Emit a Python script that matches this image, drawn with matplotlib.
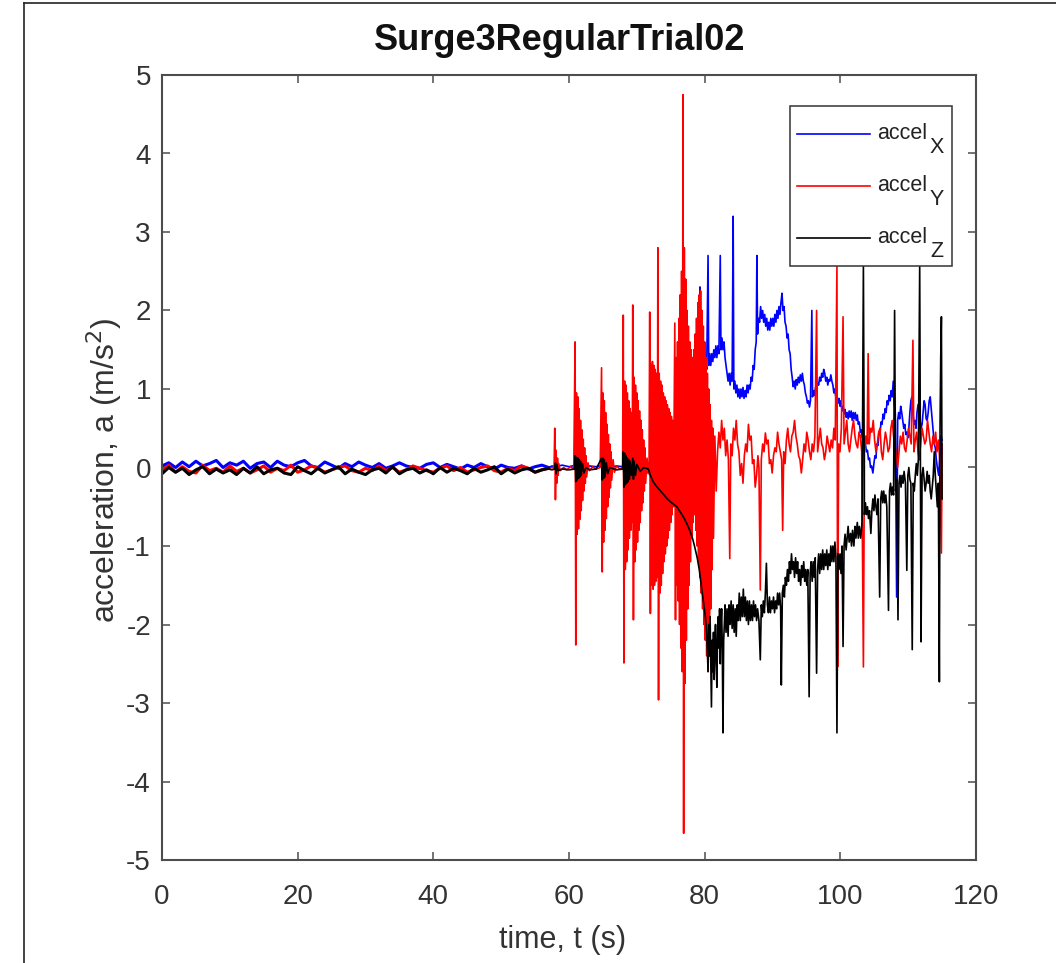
import matplotlib
import numpy as np

matplotlib.use("Agg")
import matplotlib.pyplot as plt
from matplotlib.lines import Line2D
from matplotlib.patches import Rectangle

W, H = 1056, 963
FONT = ["Liberation Sans Narrow", "Liberation Sans", "DejaVu Sans"]
plt.rcParams["font.family"] = FONT
plt.rcParams["axes.unicode_minus"] = False

title = "Surge3RegularTrial02"
x_label = "time, t (s)"
y_label = "acceleration, a (m/s$^2$)"
x_ticks = [0, 20, 40, 60, 80, 100, 120]
y_ticks = [-5, -4, -3, -2, -1, 0, 1, 2, 3, 4, 5]
legend_names = ["X", "Y", "Z"]

# quiet part, one sample per second from t = 0 to 57
blue_quiet = [0.02, 0.06, 0.0, 0.07, 0.01, 0.08, 0.02, 0.05, 0.09, 0.0, 0.06, 0.03,
              0.08, -0.01, 0.05, 0.07, 0.0, 0.08, 0.03, 0.01, 0.06, 0.09, 0.02, 0.0,
              0.07, 0.03, -0.01, 0.05, 0.01, 0.07, 0.03, 0.0, 0.05, -0.01, 0.02, 0.06,
              0.02, 0.0, -0.01, 0.04, 0.06, 0.0, 0.04, 0.01, -0.02, 0.03, 0.0, 0.05,
              0.01, -0.02, 0.03, 0.0, -0.01, 0.02, -0.02, 0.01, 0.03, 0.0]
red_quiet = [-0.04, 0.03, -0.06, 0.01, -0.05, -0.07, 0.03, -0.04, -0.01, -0.06, 0.02, -0.05,
             -0.01, -0.07, -0.03, 0.02, -0.06, -0.01, -0.04, 0.03, -0.06, -0.03, 0.02, -0.01,
             -0.06, -0.03, 0.0, 0.02, -0.04, -0.06, -0.01, -0.04, 0.02, -0.04, 0.0, -0.06,
             -0.03, 0.02, -0.01, -0.04, -0.06, -0.01, 0.02, -0.04, 0.0, -0.06, -0.03, 0.0,
             0.02, -0.04, -0.06, -0.01, -0.04, 0.02, -0.01, -0.06, -0.03, -0.01]
black_quiet = [-0.08, 0.0, -0.06, -0.01, -0.09, -0.03, 0.01, -0.08, -0.02, -0.07, -0.03,
               -0.09, -0.01, -0.07, 0.01, -0.08, -0.03, -0.01, -0.07, -0.09, 0.01, -0.04,
               -0.08, -0.01, -0.07, -0.03, 0.01, -0.08, -0.02, -0.06, -0.09, -0.03, -0.01,
               -0.07, 0.01, -0.08, -0.03, -0.01, -0.07, -0.03, -0.08, 0.0, -0.06, -0.01,
               -0.04, -0.08, -0.01, -0.06, -0.03, 0.01, -0.08, -0.02, -0.07, -0.03, -0.01,
               -0.06, -0.03, -0.01]

# active part, (t, a) pairs
blue_active = [
    (57.0, 0.0), (57.5, 0.02), (58, 0.01), (59, 0.03), (60, 0.01), (61, 0.03), (62, 0.0), (63, 0.02),
    (64, 0.01), (65, 0.03), (66, 0.0), (67, 0.02), (68, 0.01), (69, 0.03), (70, 0.02),
    (71, 0.03), (71.4, 0.0), (72.0, 0.08), (72.5, 0.15), (73.0, 0.22), (73.5, 0.28),
    (74.0, 0.33), (74.6, 0.39), (75.0, 0.45), (75.5, 0.55), (76.0, 0.62), (76.5, 0.72),
    (77.0, 0.78), (77.5, 0.85), (78.0, 0.9), (78.3, 0.95), (78.7, 1.05),
    (79.0, 1.1), (79.15, 1.2), (79.3, 2.3), (79.4, 1.15), (79.55, 1.3), (79.7, 1.15),
    (79.85, 1.3), (80.0, 1.2), (80.15, 1.35), (80.3, 1.25), (80.5, 2.7), (80.6, 1.3),
    (80.75, 1.45), (80.9, 1.3), (81.05, 1.45), (81.2, 1.35), (81.35, 1.5), (81.5, 1.4),
    (81.65, 1.55), (81.8, 1.4), (81.95, 1.55), (82.1, 1.45), (82.3, 2.7), (82.4, 1.5),
    (82.55, 1.65), (82.7, 1.5), (82.85, 1.6), (83.0, 1.4), (83.15, 1.3), (83.3, 1.2),
    (83.45, 1.1), (83.6, 1.2), (83.75, 1.05), (83.9, 1.2), (84.05, 1.1), (84.2, 3.2),
    (84.3, 1.0), (84.45, 1.1), (84.6, 0.95), (84.75, 1.05), (84.9, 0.9), (85.05, 1.0),
    (85.2, 0.88), (85.35, 1.0), (85.5, 0.9), (85.65, 1.02), (85.8, 0.88), (85.95, 0.98),
    (86.1, 0.9), (86.25, 1.05), (86.4, 0.95), (86.55, 1.05), (86.7, 1.0), (86.85, 1.15),
    (87.0, 1.1), (87.15, 1.3), (87.3, 1.25), (87.45, 1.5), (87.6, 1.6), (87.7, 2.7),
    (87.8, 1.7), (87.95, 1.9), (88.1, 1.85), (88.25, 2.05), (88.4, 1.9), (88.55, 2.0),
    (88.7, 1.85), (88.85, 1.95), (89.0, 1.8), (89.15, 1.9), (89.3, 1.75), (89.45, 1.85),
    (89.6, 1.75), (89.75, 1.9), (89.9, 1.8), (90.05, 1.9), (90.2, 1.8), (90.35, 1.95),
    (90.5, 1.85), (90.65, 2.0), (90.8, 1.9), (90.95, 2.05), (91.1, 1.95), (91.25, 2.1),
    (91.4, 2.22), (91.55, 2.0), (91.7, 2.05), (91.85, 1.85), (92.0, 1.8), (92.15, 1.65),
    (92.3, 1.7), (92.45, 1.5), (92.6, 1.45), (92.75, 1.25), (92.9, 1.15), (93.05, 1.03),
    (93.2, 1.1), (93.35, 1.0), (93.5, 1.12), (93.65, 1.05), (93.8, 1.15), (93.95, 1.08),
    (94.1, 1.18), (94.25, 1.1), (94.4, 1.2), (94.55, 1.1), (94.7, 1.05), (94.85, 0.95),
    (95.0, 0.9), (95.15, 0.82), (95.3, 0.85), (95.45, 0.77), (95.6, 0.85), (95.8, 2.0),
    (95.9, 0.9), (96.05, 0.98), (96.2, 0.92), (96.35, 1.02), (96.5, 0.98), (96.65, 1.08),
    (96.8, 1.05), (96.95, 1.15), (97.1, 1.1), (97.25, 1.2), (97.4, 1.15), (97.55, 1.25),
    (97.7, 1.2), (97.85, 1.1), (98.0, 1.15), (98.15, 1.05), (98.3, 1.12), (98.45, 1.1),
    (98.6, 1.18), (98.75, 1.1), (98.9, 1.05), (99.05, 0.95), (99.2, 1.0), (99.35, 0.88),
    (99.5, 0.92), (99.65, 0.82), (99.8, 0.88), (99.95, 0.78), (100.1, 0.85), (100.25, 0.72),
    (100.4, 0.78), (100.55, 0.68), (100.7, 0.74), (100.85, 0.64), (101.0, 0.7), (101.15, 0.62),
    (101.3, 0.72), (101.45, 0.64), (101.6, 0.72), (101.75, 0.6), (101.9, 0.7), (102.05, 0.62),
    (102.2, 0.7), (102.35, 0.6), (102.5, 0.67), (102.65, 0.55), (102.8, 0.58), (102.95, 0.45),
    (103.1, 0.48), (103.25, 0.38), (103.4, 0.4), (103.55, 0.3), (103.7, 0.3), (103.85, 0.2),
    (104.0, 0.22), (104.15, 0.1), (104.3, 0.12), (104.45, 0.0), (104.6, 0.02), (104.8, -0.07),
    (104.95, 0.05), (105.1, 0.15), (105.25, 0.12), (105.4, 0.3), (105.55, 0.28), (105.7, 0.45),
    (105.85, 0.42), (106.0, 0.58), (106.15, 0.55), (106.3, 0.68), (106.45, 0.62), (106.6, 0.75),
    (106.75, 0.7), (106.9, 0.85), (107.05, 0.8), (107.2, 0.92), (107.35, 0.85), (107.5, 0.98),
    (107.65, 0.9), (107.8, 1.1), (107.95, 0.8), (108.1, 0.7), (108.3, -1.65), (108.45, 0.6),
    (108.6, 0.7), (108.75, 0.62), (108.9, 0.78), (109.05, 0.7), (109.2, 0.6), (109.35, 0.5),
    (109.5, 0.55), (109.65, 0.42), (109.8, 0.45), (109.95, 0.38), (110.1, 0.5), (110.25, 0.7),
    (110.4, 0.85), (110.55, 0.9), (110.7, 0.7), (110.85, 0.55), (111.0, 0.6), (111.15, 0.5),
    (111.3, 0.7), (111.45, 0.8), (111.6, 0.72), (111.75, 0.6), (111.9, 0.5), (112.05, 0.55),
    (112.2, 0.7), (112.35, 0.85), (112.5, 0.8), (112.65, 0.62), (112.8, 0.6), (112.95, 0.7),
    (113.1, 0.85), (113.25, 0.9), (113.4, 0.75), (113.55, 0.6), (113.7, 0.45), (113.85, 0.3),
    (114.0, 0.25), (114.15, 0.1), (114.3, 0.0), (114.5, -0.1), (114.7, 0.2), (114.85, 0.4),
    (115.0, 0.35),
]
red_active = [
    (57.0, -0.01), (57.5, 0.0), (57.8, -0.01), (57.9, 0.50), (58.0, -0.41), (58.1, 0.22), (58.2, -0.2),
    (58.3, 0.12), (58.4, -0.1), (58.5, 0.05), (58.7, -0.04), (59.2, 0.0), (59.7, -0.03),
    (60.2, 0.01), (60.7, -0.02),
    (60.9, 1.60), (61.0, -2.26), (61.1, 0.95), (61.2, -0.85), (61.3, 0.90), (61.4, -0.78),
    (61.5, 0.75), (61.6, -0.66), (61.7, 0.6), (61.8, -0.55), (61.9, 0.48), (62.0, -0.42),
    (62.1, 0.36), (62.2, -0.3), (62.3, 0.25), (62.4, -0.2), (62.5, 0.15), (62.6, -0.12),
    (62.8, 0.06), (63.0, -0.04), (63.5, 0.01), (64.0, -0.02), (64.6, 0.0),
    (64.8, 1.27), (64.9, -1.33), (65.0, 0.95), (65.1, -0.95), (65.2, 0.85), (65.3, -0.8),
    (65.4, 0.7), (65.5, -0.65), (65.6, 0.55), (65.7, -0.5), (65.8, 0.42), (65.9, -0.38),
    (66.0, 0.3), (66.1, -0.26), (66.2, 0.2), (66.3, -0.16), (66.5, 0.1), (66.7, -0.06),
    (67.0, 0.02), (67.5, -0.02), (67.9, 0.0),
    (68.0, 1.94), (68.1, -2.49), (68.2, 1.1), (68.3, -1.3), (68.4, 1.05), (68.5, -1.2),
    (68.6, 0.95), (68.7, -1.05), (68.8, 0.85), (68.9, -0.9), (69.0, 0.75), (69.1, -0.8),
    (69.2, 0.7), (69.3, -0.7), (69.4, 2.07), (69.5, -1.94), (69.6, 1.15), (69.7, -1.2),
    (69.8, 1.05), (69.9, -1.05), (70.0, 0.95), (70.1, -0.95), (70.2, 0.85), (70.3, -0.8),
    (70.4, 0.72), (70.5, -0.7), (70.6, 0.6), (70.7, -0.55), (70.8, 0.48), (70.9, -0.45),
    (71.0, 0.35), (71.1, -0.3), (71.2, 0.25), (71.3, -0.2), (71.5, 0.12), (71.7, -0.08),
    (71.8, 0.0),
    (71.9, 1.98), (72.0, -1.86), (72.1, 1.3), (72.2, -1.5), (72.3, 1.35), (72.4, -1.55),
    (72.5, 1.3), (72.6, -1.5), (72.7, 1.25), (72.8, -1.45), (72.9, 1.2), (73.0, -1.4),
    (73.1, 2.8), (73.2, -2.96), (73.3, 1.2), (73.4, -1.6), (73.5, 1.1), (73.6, -1.5),
    (73.7, 1.05), (73.8, -1.35), (73.9, 0.95), (74.0, -1.2), (74.1, 0.9), (74.2, -1.1),
    (74.3, 0.85), (74.4, -1.0), (74.5, 0.8), (74.6, -0.9), (74.7, 0.75), (74.8, -0.8),
    (74.9, 0.7), (75.0, -0.7), (75.1, 0.65), (75.2, -0.6), (75.3, 0.6), (75.4, -0.5),
    (75.6, 1.84), (75.7, -1.94), (75.8, 1.4), (75.9, -1.5), (76.0, 1.6), (76.1, -1.7),
    (76.2, 1.9), (76.3, -2.0), (76.4, 2.2), (76.5, -2.3), (76.6, 2.5), (76.7, -2.6),
    (76.8, 4.75), (76.9, -4.66), (77.0, 2.8), (77.1, -2.75), (77.2, 2.4), (77.3, -2.2),
    (77.4, 2.0), (77.5, -1.8), (77.6, 1.8), (77.7, -1.5), (77.8, 1.6), (77.9, -1.2),
    (78.0, 1.5), (78.1, -0.9), (78.2, 1.4), (78.3, -0.7), (78.4, 1.5), (78.5, -0.6),
    (78.6, 1.7), (78.7, -0.8), (78.8, 1.9), (78.9, -1.0), (79.0, 2.1), (79.1, -1.2),
    (79.2, 2.2), (79.3, -1.4), (79.4, 2.25), (79.5, -1.6), (79.6, 2.0), (79.7, -1.8),
    (79.8, 1.8), (79.9, -2.0), (80.0, 1.6), (80.1, -2.2), (80.2, 1.4), (80.3, -2.4),
    (80.4, 1.2), (80.5, -2.6), (80.6, 1.0), (80.7, -2.2), (80.8, 0.8), (80.9, -1.8),
    (81.0, 0.6), (81.1, -1.3), (81.2, 0.5), (81.3, -0.9),
    (81.5, 0.4), (81.7, -0.3), (81.9, 0.2), (82.1, 0.45), (82.3, 0.25), (82.5, 0.6),
    (82.7, 0.35), (82.9, 0.5), (83.1, 0.15), (83.3, 0.35), (83.5, 0.1), (83.7, -1.16),
    (83.85, 0.3), (84.05, 0.15), (84.25, 0.5), (84.45, 0.35), (84.65, 0.6), (84.85, 0.3),
    (85.05, 0.2), (85.25, -0.1), (85.45, 0.05), (85.65, -0.2), (85.85, 0.15), (86.05, 0.3),
    (86.25, 0.2), (86.45, 0.55), (86.65, 0.35), (86.85, 0.4), (87.05, 0.05), (87.25, 0.1),
    (87.45, -0.25), (87.65, -0.1), (87.85, 0.15), (88.0, 0.0), (88.2, -1.56), (88.35, 0.1),
    (88.55, 0.3), (88.75, 0.2), (88.95, 0.44), (89.15, 0.3), (89.35, 0.35), (89.55, 0.05),
    (89.75, 0.1), (89.95, -0.07), (90.15, 0.15), (90.35, 0.25), (90.55, 0.2), (90.75, 0.45),
    (90.95, 0.3), (91.15, 0.2), (91.35, 0.1), (91.5, -0.8), (91.65, 0.2), (91.85, 0.05),
    (92.05, 0.35), (92.25, 0.5), (92.45, 0.3), (92.65, 0.2), (92.85, 0.4), (93.05, 0.45),
    (93.25, 0.6), (93.45, 0.4), (93.65, 0.3), (93.85, 0.15), (94.05, 0.1), (94.25, -0.07),
    (94.45, 0.1), (94.65, 0.3), (94.85, 0.2), (95.05, 0.45), (95.25, 0.35), (95.45, 0.2),
    (95.65, 0.1), (95.85, 0.3), (96.05, 0.2), (96.25, 0.4), (96.5, 2.0), (96.65, 0.2),
    (96.85, 0.35), (97.05, 0.5), (97.25, 0.3), (97.45, 0.25), (97.65, 0.1), (97.85, 0.2),
    (98.05, 0.4), (98.25, 0.3), (98.45, 0.2), (98.65, 0.35), (98.85, 0.25), (99.05, 0.5),
    (99.25, 0.35), (99.5, 2.56), (99.6, -2.54), (99.75, 0.3), (99.95, 0.2), (100.15, 0.5),
    (100.4, 1.92), (100.55, 0.3), (100.75, 0.45), (100.95, 0.6), (101.15, 0.3), (101.35, 0.2),
    (101.55, 0.35), (101.75, 0.5), (101.95, 0.6), (102.15, 0.4), (102.35, 0.3), (102.55, 0.25),
    (102.75, 0.45), (102.95, 0.4), (103.15, 0.2), (103.4, -2.54), (103.55, 0.2), (103.75, 0.4),
    (103.95, 0.3), (104.1, 1.45), (104.25, 0.3), (104.45, 0.5), (104.65, 0.45), (104.85, 0.6),
    (105.05, 0.35), (105.25, 0.2), (105.45, 0.3), (105.65, 0.45), (105.85, 0.5), (106.05, 0.2),
    (106.25, 0.1), (106.45, 0.3), (106.65, 0.45), (106.85, 0.35), (107.05, 0.2), (107.25, 0.25),
    (107.45, 0.5), (107.65, 0.6), (107.85, 0.4), (108.05, 0.3), (108.25, 0.15), (108.45, 0.0),
    (108.65, 0.2), (108.85, 0.4), (109.05, 0.3), (109.25, 0.45), (109.45, 0.25), (109.65, 0.2),
    (109.85, 0.35), (110.05, 0.5), (110.25, 0.4), (110.45, 0.3), (110.7, 1.62), (110.85, 0.2),
    (111.05, 0.35), (111.25, 0.45), (111.45, 0.2), (111.65, 0.1), (111.85, 0.3), (112.05, 0.5),
    (112.25, 0.4), (112.45, 0.3), (112.65, 0.35), (112.85, 0.6), (113.05, 0.45), (113.25, 0.3),
    (113.45, 0.2), (113.65, 0.4), (113.85, 0.3), (114.05, 0.45), (114.25, 0.2), (114.45, 0.35),
    (114.65, 0.1), (114.9, -1.09), (115.0, 0.3),
]
black_active = [
    (57.0, -0.02), (57.5, -0.03), (57.9, -0.02), (58.0, 0.06), (58.1, -0.08), (58.2, 0.04), (58.4, -0.04),
    (59, -0.02), (60, -0.03), (60.8, -0.02), (60.9, 0.15), (61.0, -0.18), (61.1, 0.13),
    (61.2, -0.16), (61.3, 0.12), (61.4, -0.14), (61.5, 0.1), (61.6, -0.12), (61.7, 0.08),
    (61.8, -0.1), (62.0, 0.05), (62.2, -0.07), (62.5, 0.0), (63, -0.03), (64, -0.02),
    (64.8, 0.12), (64.9, -0.16), (65.0, 0.12), (65.1, -0.14), (65.2, 0.1), (65.3, -0.12),
    (65.5, 0.06), (65.7, -0.08), (66.0, 0.0), (67, -0.03), (67.9, -0.02), (68.0, 0.2),
    (68.1, -0.25), (68.2, 0.18), (68.3, -0.22), (68.4, 0.15), (68.5, -0.2), (68.6, 0.12),
    (68.7, -0.18), (68.8, 0.1), (68.9, -0.15), (69.0, 0.08), (69.2, -0.1), (69.4, 0.12),
    (69.5, -0.15), (69.6, 0.08), (69.8, -0.1), (70.0, 0.04), (70.5, -0.05), (71.0, 0.0),
    (71.7, -0.02), (72.0, -0.1), (72.4, -0.18), (72.9, -0.24), (73.5, -0.3), (74.0, -0.35),
    (74.5, -0.4), (75.0, -0.44), (75.9, -0.5), (76.5, -0.58), (77.0, -0.65), (77.4, -0.72),
    (77.8, -0.8), (78.2, -0.9), (78.5, -1.0), (78.9, -1.15), (79.2, -1.3), (79.5, -1.5),
    (79.8, -1.69), (80.1, -1.9),
    (80.3, -2.1), (80.5, -2.6), (80.6, -2.0), (80.7, -2.4), (80.8, -1.9), (80.9, -2.5),
    (81.0, -3.05), (81.1, -2.2), (81.2, -2.6), (81.3, -2.1), (81.4, -2.7), (81.5, -2.2),
    (81.6, -2.0), (81.7, -2.5), (81.8, -2.8), (81.9, -2.1), (82.0, -1.9), (82.1, -2.3),
    (82.2, -1.8), (82.3, -2.5), (82.4, -2.0), (82.5, -1.8), (82.6, -2.3), (82.7, -3.38),
    (82.8, -2.2), (82.9, -2.0), (83.0, -1.75), (83.15, -2.1), (83.3, -1.8), (83.45, -2.15),
    (83.6, -1.75), (83.75, -2.0), (83.9, -1.7), (84.05, -2.05), (84.2, -1.75), (84.35, -2.1),
    (84.5, -1.8), (84.65, -2.15), (84.8, -1.75), (84.95, -1.95), (85.1, -1.6), (85.25, -1.95),
    (85.4, -1.65), (85.55, -1.9), (85.7, -1.55), (85.85, -1.9), (86.0, -1.65), (86.15, -1.95),
    (86.3, -1.7), (86.45, -2.0), (86.6, -1.7), (86.75, -1.95), (86.9, -1.75), (87.05, -1.95),
    (87.2, -1.7), (87.35, -1.9), (87.5, -1.75), (87.65, -1.95), (87.8, -1.8), (88.0, -1.95),
    (88.2, -2.45), (88.35, -1.75), (88.5, -1.9), (88.65, -1.7), (88.8, -1.85), (88.95, -1.6),
    (89.1, -1.22), (89.25, -1.75), (89.4, -1.85), (89.55, -1.65), (89.7, -1.85), (89.85, -1.7),
    (90.0, -1.8), (90.15, -1.65), (90.3, -1.85), (90.45, -1.7), (90.6, -1.8), (90.75, -1.6),
    (90.9, -1.75), (91.05, -1.6), (91.2, -1.8), (91.3, -2.77), (91.45, -1.6), (91.6, -1.5),
    (91.75, -1.65), (91.9, -1.4), (92.05, -1.5), (92.2, -1.3), (92.35, -1.45), (92.5, -1.2),
    (92.65, -1.35), (92.8, -1.1), (92.95, -1.3), (93.1, -1.2), (93.25, -1.4), (93.4, -1.15),
    (93.55, -1.35), (93.7, -1.2), (93.85, -1.45), (94.0, -1.3), (94.15, -1.5), (94.3, -1.25),
    (94.45, -1.4), (94.6, -1.2), (94.75, -1.45), (94.9, -1.3), (95.05, -1.5), (95.2, -1.3),
    (95.4, -2.92), (95.55, -1.35), (95.7, -1.2), (95.85, -1.45), (96.0, -1.2), (96.15, -1.4),
    (96.3, -1.15), (96.5, -2.62), (96.65, -1.3), (96.8, -1.1), (96.95, -1.35), (97.1, -1.1),
    (97.25, -1.3), (97.4, -1.05), (97.55, -1.3), (97.7, -1.1), (97.85, -1.25), (98.0, -1.05),
    (98.15, -1.3), (98.3, -1.1), (98.45, -1.25), (98.6, -1.0), (98.75, -1.2), (98.9, -1.0),
    (99.05, -1.2), (99.2, -0.95), (99.35, -1.15), (99.5, -3.38), (99.65, -1.1), (99.8, -1.3),
    (99.95, -1.1), (100.1, -1.35), (100.25, -1.0), (100.4, -2.28), (100.55, -1.0), (100.7, -0.85),
    (100.85, -1.05), (101.0, -0.9), (101.15, -0.75), (101.3, -0.95), (101.5, -0.84),
    (101.65, -1.0), (101.8, -0.8), (102.0, -1.0), (102.15, -0.75), (102.3, -0.9), (102.5, -0.7),
    (102.65, -0.9), (102.8, -0.75), (103.0, -0.9), (103.2, -0.7), (103.4, 2.56),
    (103.55, -0.6), (103.7, -0.45), (103.85, -0.6), (104.0, -0.5), (104.15, -0.65), (104.3, -0.55),
    (104.5, -0.84), (104.65, -0.55), (104.8, -0.4), (104.95, -0.55), (105.1, -0.35), (105.25, -0.5),
    (105.4, -0.6), (105.55, -0.4), (105.8, -1.65), (105.95, -0.4), (106.1, -0.3), (106.25, -0.45),
    (106.4, -0.3), (106.55, -0.45), (106.7, -0.35), (106.85, -0.5), (107.1, -1.82), (107.25, -0.3),
    (107.4, -0.2), (107.55, -0.35), (107.7, -0.25), (107.85, -0.35), (108.0, 2.0), (108.15, -0.3),
    (108.3, -0.15), (108.5, -1.94), (108.65, -0.2), (108.8, -0.1), (108.95, -0.25), (109.1, -0.1),
    (109.25, -0.2), (109.4, -0.05), (109.6, -0.2), (109.8, -1.31), (109.95, -0.1), (110.1, 0.0),
    (110.25, -0.15), (110.4, -0.2), (110.6, -2.32), (110.75, -0.2), (110.9, -0.3), (111.05, -0.1),
    (111.2, 0.05), (111.35, -0.1), (111.5, 0.1), (111.7, 2.56), (111.9, -2.22), (112.05, -0.1),
    (112.2, 0.0), (112.35, -0.15), (112.5, -0.3), (112.65, -0.2), (112.8, -0.05), (112.95, -0.2),
    (113.1, -0.1), (113.25, -0.3), (113.4, -0.4), (113.55, -0.25), (113.7, -0.1), (113.85, 0.2),
    (114.0, -0.1), (114.15, -0.3), (114.3, -0.5), (114.45, -0.2), (114.6, -2.73), (114.7, 0.5),
    (114.8, 1.4), (114.9, 1.92), (115.0, -0.4),
]

fig = plt.figure(figsize=(W / 100, H / 100), dpi=100)
ax = fig.add_axes([162 / W, 1 - 860 / H, (976 - 162) / W, (860 - 75) / H])

colors = ["#0000ff", "#ff0000", "#000000"]
for (quiet, active), color in zip(
    [(blue_quiet, blue_active), (red_quiet, red_active), (black_quiet, black_active)], colors
):
    # the quiet stretch is a dense noise band in the original, so draw it heavier
    ax.plot(np.arange(len(quiet)), quiet, color=color, lw=2.2)
    ax.plot([p[0] for p in active], [p[1] for p in active], color=color, lw=1.2)

ax.set_xlim(0, 120)
ax.set_ylim(-5, 5)
ax.set_xticks(x_ticks)
ax.set_yticks(y_ticks)
ax.tick_params(direction="in", length=6, width=1.1, top=True, right=True,
               labelsize=20, colors="#4d4d4d", labelcolor="#333333")
ax.tick_params(axis="x", pad=17)
ax.tick_params(axis="y", pad=8)
for spine in ax.spines.values():
    spine.set_color("#4d4d4d")
    spine.set_linewidth(1.5)

ax.set_xlabel(x_label, fontsize=22, color="#333333")
ax.xaxis.set_label_coords((563 - 162) / 814, (860 - 925) / 785)
ax.set_ylabel(y_label, fontsize=23, color="#333333")
ax.yaxis.set_label_coords((124 - 162) / 814, (860 - 470) / 785)

fig.text(560 / W, 1 - 40 / H, title, fontsize=26, fontweight="bold",
         ha="center", va="center", color="#111111")

# legend box drawn by hand to keep MATLAB's layout
ax.add_patch(Rectangle((790 / W, 1 - 266 / H), 162 / W, 160 / H, transform=fig.transFigure,
                       facecolor="white", edgecolor="#333333", lw=1.1, zorder=5, clip_on=False))
for i, (name, color) in enumerate(zip(legend_names, colors)):
    y = 134 + 52 * i
    ax.add_line(Line2D([797 / W, 870 / W], [1 - y / H, 1 - y / H], transform=fig.transFigure,
                       color=color, lw=1.2, zorder=6, clip_on=False))
    fig.text(877 / W, 1 - (y + 5) / H, "accel", fontsize=15.5, color="#222222",
             va="baseline", ha="left", zorder=7)
    fig.text(930 / W, 1 - (y + 19) / H, name, fontsize=15.5, color="#222222",
             va="baseline", ha="left", zorder=7)

# outer frame of the screenshot
fig.add_artist(Line2D([24 / W, 24 / W], [0, 1 - 3 / H], color="#222222", lw=1.2))
fig.add_artist(Line2D([24 / W, 1], [1 - 3 / H, 1 - 3 / H], color="#222222", lw=1.2))

fig.savefig("out.png", dpi=100)
